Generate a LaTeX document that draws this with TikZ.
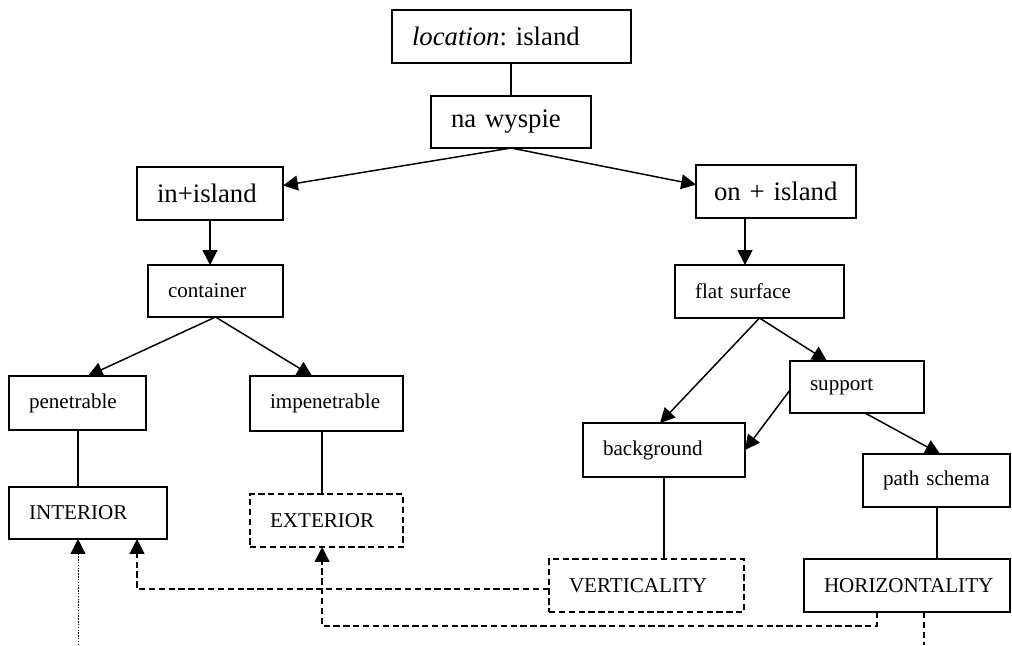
\documentclass[tikz,border=0pt]{standalone}
\usepackage{fontspec}
\setmainfont{Liberation Serif}
\usetikzlibrary{arrows.meta}
\frenchspacing

\tikzset{
    box/.style={draw, line width=1.1pt, anchor=north west, align=left,
        inner xsep=0.5cm, inner ysep=0pt, outer sep=0pt,
        font=\fontsize{15}{18}\selectfont},
    bigbox/.style={box, font=\fontsize{19}{22}\selectfont},
    dbox/.style={box, dash pattern=on 4.5pt off 2.5pt},
    link/.style={line width=1.05pt},
    dlink/.style={line width=1.05pt, dash pattern=on 4.5pt off 2.5pt},
    tip/.style={-{Triangle[length=0.37cm,width=0.37cm]}},
    arr/.style={link, tip}
}

\begin{document}
\begin{tikzpicture}[x=0.025cm, y=-0.025cm]
    \useasboundingbox (0,0) rectangle (1012,645);

    \node [bigbox, text width=4.975cm, minimum height=1.325cm] (loc) at (392,10) {\textit{location}: island};
    \node [bigbox, text width=3cm, minimum height=1.3cm] (na) at (431,96) {na wyspie};
    \draw [link] ([xshift=-0.0125cm]loc.south) -- ([xshift=-0.0125cm]loc.south |- na.north);

    \node [bigbox, text width=2.65cm, minimum height=1.325cm] (inis) at (137,167) {in+island};
    \node [bigbox, inner xsep=0.45cm, text width=3.1cm, minimum height=1.325cm] (onis) at (696,165) {on + island};
    \draw [arr] (na.south) -- ([yshift=0.2cm]inis.east);
    \draw [arr] (na.south) -- ([yshift=0.17cm]onis.west);

    \node [box, text width=2.375cm, minimum height=1.3cm] (cont) at (148,265) {container};
    \node [box, text width=3.225cm, minimum height=1.325cm] (flat) at (675,265) {flat surface};
    \draw [arr] (inis.south) -- (inis.south |- cont.north);
    \draw [arr] ([xshift=-0.775cm]onis.south) -- ([xshift=-0.775cm]onis.south |- flat.north);

    \node [box, text width=2.425cm, minimum height=1.35cm] (pen) at (9,376) {penetrable};
    \node [box, text width=2.825cm, minimum height=1.375cm] (imp) at (250,376) {impenetrable};
    \draw [arr] (cont.south) -- ([xshift=0.26cm]pen.north);
    \draw [arr] (cont.south) -- ([xshift=-0.36cm]imp.north);

    \node [box, text width=2.35cm, minimum height=1.3cm] (supp) at (790,361) {support};
    \node [box, text width=3.05cm, minimum height=1.35cm] (bg) at (583,423) {background};
    \node [box, text width=2.675cm, minimum height=1.325cm] (path) at (863,454) {path schema};
    \draw [arr] (flat.south) -- ([xshift=-0.1cm]bg.north);
    \draw [arr] (flat.south) -- ([xshift=-0.75cm]supp.north);
    \draw [arr] ([yshift=-0.075cm]supp.west) -- (bg.east);
    \draw [arr] ([xshift=0.2cm]supp.south) -- ([xshift=0.09cm]path.north);

    \node [box, text width=2.95cm, minimum height=1.3cm] (inter) at (9,487) {INTERIOR};
    \node [dbox, text width=2.825cm, minimum height=1.325cm] (ext) at (250,494) {EXTERIOR};
    \node [dbox, text width=3.875cm, minimum height=1.325cm] (vert) at (549,559) {VERTICALITY};
    \node [box, text width=4.15cm, minimum height=1.325cm] (horiz) at (804,559) {HORIZONTALITY};
    \draw [link] ([xshift=0.0125cm]pen.south) -- ([xshift=0.0125cm]pen.south |- inter.north);
    \draw [link] ([xshift=-0.1125cm]imp.south) -- ([xshift=-0.1125cm]imp.south |- ext.north);
    \draw [link] (bg.south) -- (bg.south |- vert.north);
    \draw [link] ([xshift=0.0125cm]path.south) -- ([xshift=0.0125cm]path.south |- horiz.north);

    \draw [dlink, tip] ([yshift=-0.0875cm]vert.west) -| ([xshift=1.225cm]inter.south);
    \draw [dlink, tip] ([xshift=-0.75cm]horiz.south) -- ++(0,14) -| ([xshift=-0.11cm]ext.south);
    \coordinate (lowa) at (78,645);
    \coordinate (lowb) at (924,645);
    \draw [line width=0.6pt, dash pattern=on 1pt off 1pt, tip] (lowa) -- (lowa |- inter.south);
    \draw [dlink] (horiz.south -| lowb) -- (lowb);
\end{tikzpicture}
\end{document}
